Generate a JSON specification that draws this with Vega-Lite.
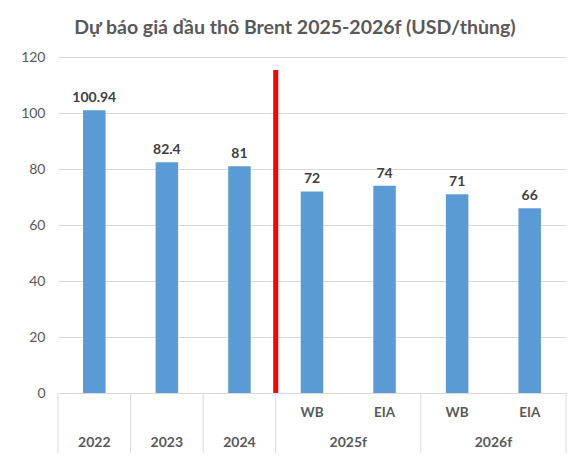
{
  "$schema": "https://vega.github.io/schema/vega-lite/v6.json",
  "width": 508,
  "height": 336,
  "autosize": {"type": "none"},
  "padding": {"left": 58, "top": 57, "right": 11, "bottom": 66},
  "background": "white",
  "title": {
    "text": "Dự báo giá dầu thô Brent 2025-2026f (USD/thùng)",
    "font": "Lato",
    "fontSize": 19.5,
    "fontWeight": "bold",
    "color": "#595959",
    "anchor": "middle",
    "dx": -17,
    "offset": 12
  },
  "config": {
    "view": {"stroke": null},
    "font": "Lato"
  },
  "data": {
    "values": [
      {"cat": "2022", "group": "2022", "sub": "", "value": 100.94},
      {"cat": "2023", "group": "2023", "sub": "", "value": 82.4},
      {"cat": "2024", "group": "2024", "sub": "", "value": 81},
      {"cat": "2025f WB", "group": "2025f", "sub": "WB", "value": 72},
      {"cat": "2025f EIA", "group": "2025f", "sub": "EIA", "value": 74},
      {"cat": "2026f WB", "group": "2026f", "sub": "WB", "value": 71},
      {"cat": "2026f EIA", "group": "2026f", "sub": "EIA", "value": 66}
    ]
  },
  "encoding": {
    "x": {
      "field": "cat",
      "type": "nominal",
      "sort": null,
      "scale": {"paddingInner": 0, "paddingOuter": 0},
      "axis": {"labels": false, "ticks": false, "domain": true, "domainColor": "#d9d9d9", "title": null, "grid": false}
    }
  },
  "layer": [
    {
      "mark": {"type": "bar", "color": "#5B9BD5", "width": {"band": 0.31}},
      "encoding": {
        "y": {
          "field": "value",
          "type": "quantitative",
          "scale": {"domain": [0, 120], "nice": false},
          "axis": {
            "values": [0, 20, 40, 60, 80, 100, 120],
            "title": null,
            "domain": false,
            "ticks": false,
            "grid": true,
            "gridColor": "#d9d9d9",
            "labelFont": "Lato",
            "labelFontSize": 14,
            "labelColor": "#595959",
            "labelPadding": 13
          }
        }
      }
    },
    {
      "mark": {"type": "text", "font": "Lato", "fontSize": 14, "fontWeight": "bold", "color": "#404040", "baseline": "alphabetic", "dy": -8},
      "encoding": {
        "y": {"field": "value", "type": "quantitative"},
        "text": {"field": "value", "type": "nominal"}
      }
    },
    {
      "data": {"values": [{"cat": "2025f WB", "bottom": 0, "top": 115.4}]},
      "mark": {"type": "rule", "color": "#FF0000", "strokeWidth": 5},
      "encoding": {
        "x": {"field": "cat", "type": "nominal", "bandPosition": 0},
        "y": {"field": "bottom", "type": "quantitative"},
        "y2": {"field": "top"}
      }
    },
    {
      "transform": [{"filter": "datum.sub != 'EIA'"}],
      "mark": {"type": "rule", "color": "#d9d9d9", "strokeWidth": 1},
      "encoding": {
        "x": {"field": "cat", "type": "nominal", "bandPosition": 0},
        "y": {"datum": 0, "type": "quantitative"},
        "y2": {"datum": -21.4}
      }
    },
    {
      "transform": [{"filter": "datum.cat == '2026f EIA'"}],
      "mark": {"type": "rule", "color": "#d9d9d9", "strokeWidth": 1},
      "encoding": {
        "x": {"field": "cat", "type": "nominal", "bandPosition": 1},
        "y": {"datum": 0, "type": "quantitative"},
        "y2": {"datum": -21.4}
      }
    },
    {
      "transform": [{"filter": "datum.sub != ''"}],
      "mark": {"type": "text", "font": "Lato", "fontSize": 13.5, "fontWeight": "bold", "color": "#595959", "baseline": "middle", "dy": 20},
      "encoding": {
        "y": {"datum": 0, "type": "quantitative"},
        "text": {"field": "sub", "type": "nominal"}
      }
    },
    {
      "transform": [{"filter": "datum.sub == ''"}],
      "mark": {"type": "text", "font": "Lato", "fontSize": 14, "fontWeight": "bold", "color": "#595959", "baseline": "middle", "dy": 50},
      "encoding": {
        "y": {"datum": 0, "type": "quantitative"},
        "text": {"field": "group", "type": "nominal"}
      }
    },
    {
      "transform": [{"filter": "datum.sub == 'WB'"}],
      "mark": {"type": "text", "font": "Lato", "fontSize": 14, "fontWeight": "bold", "color": "#595959", "baseline": "middle", "dy": 50},
      "encoding": {
        "x": {"field": "cat", "type": "nominal", "bandPosition": 1},
        "y": {"datum": 0, "type": "quantitative"},
        "text": {"field": "group", "type": "nominal"}
      }
    }
  ]
}
